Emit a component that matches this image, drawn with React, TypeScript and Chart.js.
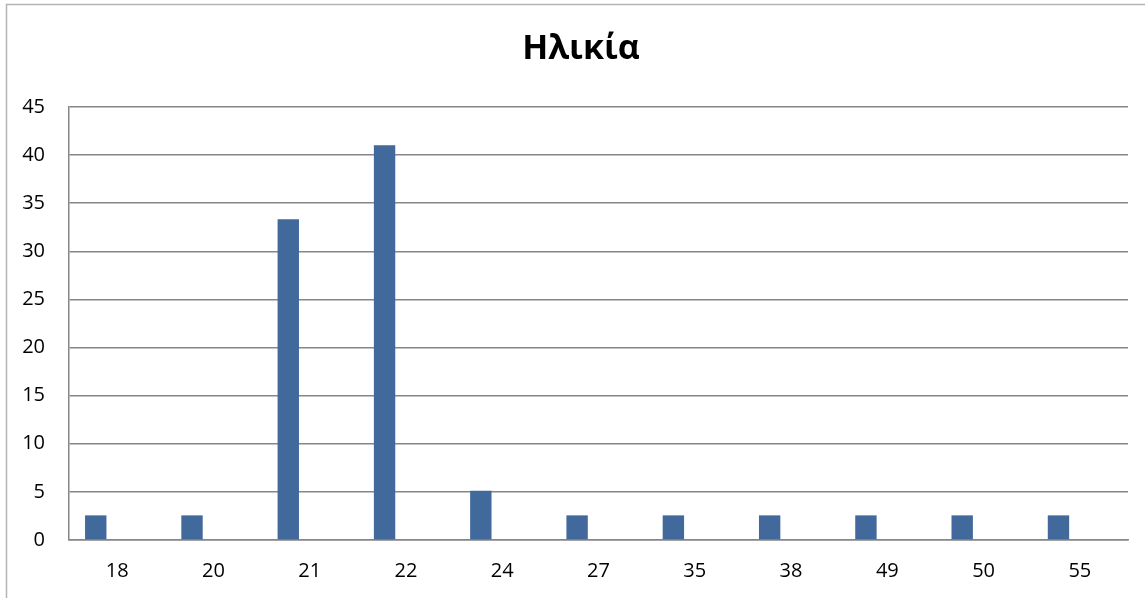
import React, { useEffect, useRef } from "react";
import { Chart, registerables } from "chart.js";

Chart.register(...registerables);

// Age distribution (% of respondents)
const ageLabels = ["18", "20", "21", "22", "24", "27", "35", "38", "49", "50", "55"];
const agePercent = [2.56, 2.56, 33.33, 41.03, 5.13, 2.56, 2.56, 2.56, 2.56, 2.56, 2.56];
// Two further series of the sheet that hold no values
const seriesTwo = [null, null, null, null, null, null, null, null, null, null, null];
const seriesThree = [null, null, null, null, null, null, null, null, null, null, null];
const yTicks = [0, 5, 10, 15, 20, 25, 30, 35, 40, 45];

const TITLE = "Ηλικία";
const FONT = "'Open Sans', 'Noto Sans', sans-serif";
const GRID = "#868686";

// Thin frame around the chart (left and top edges are visible) plus the title,
// which sits centred over the whole frame rather than the plot area.
const framePlugin = {
  id: "frame",
  beforeDraw(chart: any) {
    const ctx = chart.ctx;
    ctx.save();
    ctx.strokeStyle = "#b4b4b4";
    ctx.lineWidth = 1.5;
    ctx.strokeRect(6.5, 4.5, 2000, 2000);
    ctx.restore();
  },
  afterDraw(chart: any) {
    const ctx = chart.ctx;
    ctx.save();
    ctx.fillStyle = "#000";
    ctx.font = `bold 34px ${FONT}`;
    ctx.textAlign = "center";
    ctx.textBaseline = "alphabetic";
    ctx.fillText(TITLE, 581, 59);
    ctx.restore();
  },
};

export default function App() {
  const canvasRef = useRef<HTMLCanvasElement | null>(null);

  useEffect(() => {
    if (!canvasRef.current) return;
    const chart = new Chart(canvasRef.current, {
      type: "bar",
      data: {
        labels: ageLabels,
        datasets: [
          { data: agePercent, backgroundColor: "#41699c", borderWidth: 0 },
          { data: seriesTwo as any, backgroundColor: "#a5473f", borderWidth: 0 },
          { data: seriesThree as any, backgroundColor: "#87a24a", borderWidth: 0 },
        ],
      },
      options: {
        animation: false,
        responsive: false,
        maintainAspectRatio: false,
        layout: { padding: { left: 0, right: 17, top: 107, bottom: 0 } },
        datasets: {
          bar: { categoryPercentage: 2 / 3, barPercentage: 1 },
        },
        plugins: {
          legend: { display: false },
          tooltip: { enabled: false },
          title: { display: false },
        },
        scales: {
          x: {
            grid: { display: false, drawTicks: false },
            border: { display: true, color: GRID, width: 1.5 },
            ticks: {
              color: "#000",
              font: { family: FONT, size: 20 },
              padding: 19,
              maxRotation: 0,
            },
            afterFit(scale: any) {
              scale.height = 58;
            },
          },
          y: {
            min: 0,
            max: 45,
            afterBuildTicks(scale: any) {
              scale.ticks = yTicks.map((v) => ({ value: v }));
            },
            grid: { color: GRID, lineWidth: 1.5, drawTicks: false },
            border: { display: true, color: GRID, width: 1.5 },
            ticks: {
              color: "#000",
              font: { family: FONT, size: 20 },
              padding: 24,
            },
            afterFit(scale: any) {
              scale.width = 69;
            },
          },
        },
      },
      plugins: [framePlugin],
    });
    return () => chart.destroy();
  }, []);

  return (
    <div
      style={{
        position: "fixed",
        left: 0,
        top: 0,
        width: 1145,
        height: 598,
        background: "#fff",
        overflow: "hidden",
      }}
    >
      <canvas ref={canvasRef} width={1145} height={598} style={{ display: "block" }} />
    </div>
  );
}
